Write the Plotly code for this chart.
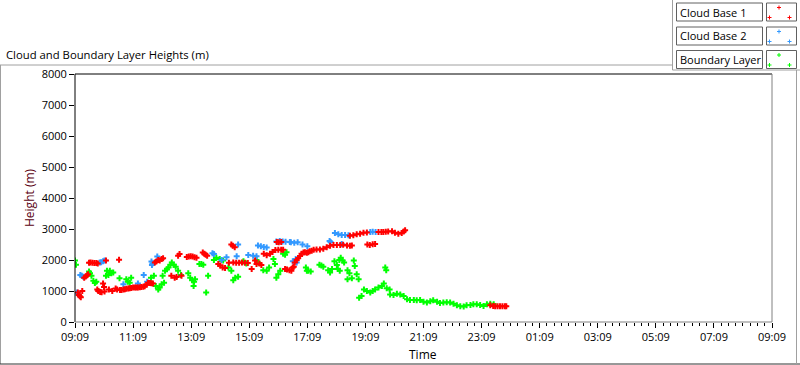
import pandas as pd
import plotly.graph_objects as go

# ---------------- data (clock times, heights in m) ----------------
cb1_time = ["09:15","09:17","09:19","09:21","09:24","09:28","09:31","09:34","09:36","09:38",
            "09:41","09:45","09:49","09:53","09:56","09:55","09:57","10:01","10:04","10:07",
            "10:09","10:10","10:13","10:19","10:26","10:33","10:36","10:40","10:42","10:45",
            "10:49","10:52","10:55","10:59","11:02","11:05","11:09","11:13","11:16","11:19",
            "11:23","11:26","11:30","11:33","11:37","11:40","11:44","11:47","11:50","11:54",
            "11:57","12:01","12:04","12:08","12:11","12:28","12:35","12:39","12:42","12:45",
            "12:49","13:00","13:04","13:08","13:12","13:16","13:20","13:33","13:36","13:39",
            "13:42","14:05","14:09","14:14","14:19","14:27","14:32","14:35","14:39","14:36",
            "14:42","14:48","14:54","15:00","15:06","15:14","15:21","15:24","15:30","15:34",
            "15:39","15:45","15:52","15:57","16:03","16:06","16:10","16:15","16:09","16:15",
            "16:19","16:23","16:27","16:32","16:36","16:39","16:41","16:43","16:47","16:50",
            "16:54","16:57","17:01","17:04","17:08","17:11","17:14","17:18","17:22","17:28",
            "17:35","17:42","17:49","17:56","18:03","18:10","18:17","18:23","18:31","18:37",
            "18:41","18:37","18:44","18:51","18:58","19:05","19:12","19:13","19:18","19:24",
            "19:29","19:36","19:42","19:46","19:51","19:56","20:04","20:10","20:17","20:24",
            "20:28","20:31","23:27","23:33","23:37","23:42","23:47","23:52","23:57","00:00"]
cb1_height = [950,870,830,800,1000,1430,1470,1510,1540,1910,
              1920,1910,1900,1900,1890,1050,1000,970,960,1240,
              1130,980,1980,1050,1000,1080,1050,2010,1030,1030,
              1050,1060,1070,1080,1090,1100,1110,1110,1110,1110,
              1120,1130,1140,1150,1200,1270,1260,1250,1240,1920,
              1950,2000,1980,2030,2060,1490,1430,1450,2140,2190,
              1490,2100,2110,2120,2110,2090,2070,2240,2200,2170,
              2140,1870,1820,1760,1740,1910,2500,2460,2410,1920,
              1910,1910,1920,1910,1900,1710,1980,1870,1890,1840,
              2200,2150,2200,2260,2320,2580,2570,2580,2330,2330,
              2330,1710,1690,1670,1650,1760,1780,1920,2000,2060,
              2130,2200,2240,2250,2230,2250,2280,2300,2330,2340,
              2340,2360,2410,2460,2480,2480,2480,2490,2470,2460,
              2470,2780,2800,2830,2850,2880,2890,2500,2480,2510,
              2520,2900,2900,2900,2910,2920,2930,2880,2850,2870,
              2920,2960,540,520,510,510,510,510,510,510]

cb2_time = ["09:13","09:16","09:20","09:23","09:26","10:00","10:03","10:07","10:10","10:49",
            "11:19","11:31","11:38","11:47","11:48","11:49","11:59","13:53","13:56","14:12",
            "14:22","14:43","14:46","15:07","15:17","15:24","15:27","15:33","15:39","15:45",
            "16:05","16:12","16:18","16:24","16:33","16:35","16:39","16:42","16:45","16:47",
            "16:49","16:59","17:09","17:55","17:57","18:06","18:13","18:20","18:20","18:27",
            "18:34","19:19","19:24","19:30"]
cb2_height = [950,890,1520,1490,1460,1920,1930,1960,1980,1220,
              1240,1520,1300,1950,1840,1890,2110,2220,2190,2000,
              2090,2120,2500,2160,2140,2120,2470,2440,2420,2400,
              2600,2610,2600,2590,2580,2570,1960,2560,2030,1920,
              2570,2500,2440,2610,2580,2870,2830,2520,2810,2810,
              2800,2900,2910,2900]

bl_time = ["09:09","09:11","09:38","09:40","09:43","09:47","09:50","09:53","10:13","10:15",
           "10:18","10:21","10:24","10:28","10:41","10:55","10:58","11:02","11:05","11:46",
           "11:52","11:56","12:01","12:04","12:08","12:10","12:13","12:15","12:19","12:22",
           "12:26","12:29","12:33","12:37","12:42","12:48","13:03","13:07","13:11","13:14",
           "13:15","13:17","13:26","13:30","13:34","13:40","13:44","13:56","14:01","14:08",
           "14:15","14:26","14:32","14:36","14:40","14:46","14:57","15:03","15:24","15:27",
           "15:38","15:45","15:50","15:59","16:02","16:05","16:09","16:13","16:19","16:23",
           "16:26","17:06","17:08","17:11","17:16","17:34","17:38","17:42","17:52","17:56",
           "18:00","18:05","18:10","18:12","18:15","18:16","18:18","18:22","18:25","18:32",
           "18:32","18:36","18:41","18:45","18:47","18:51","18:55","18:56","19:01","19:06",
           "19:12","19:19","19:24","19:29","19:36","19:43","19:47","19:50","19:52","19:53",
           "19:59","20:00","20:07","20:14","20:21","20:28","20:35","20:41","20:49","20:55",
           "21:02","21:09","21:16","21:23","21:29","21:37","21:43","21:50","21:57","22:04",
           "22:11","22:18","22:25","22:32","22:38","22:46","22:52","22:59","23:06","23:13",
           "23:20","23:27","23:34"]
bl_height = [1980,1850,1630,1570,1490,1330,1260,1300,1490,1650,
             1520,1650,1570,1600,1410,1380,1300,1270,1430,1430,
             1490,1160,1050,1110,1220,1490,1270,1650,1700,1760,
             1850,1920,1850,1780,1650,1520,1570,1430,1350,1160,
             1300,1380,1870,1870,1850,950,1490,2000,2070,2030,
             1980,1760,1650,1350,1430,1460,1960,1890,2000,1920,
             1670,1650,1760,2030,1870,1430,1540,1650,2200,2170,
             2250,1760,1650,1650,1630,1850,1820,1780,1670,1600,
             1710,1960,1840,1710,2000,1650,2070,1980,1920,1670,
             1380,1570,1410,1980,1810,1540,1380,780,840,1050,
             1000,950,1000,1050,1110,1160,1240,1760,1670,1090,
             1050,890,870,910,890,840,730,710,710,700,
             710,650,630,670,700,650,610,630,640,630,
             590,540,510,500,540,550,570,570,550,520,
             570,590,570]

x_tick_labels = ["09:09","11:09","13:09","15:09","17:09","19:09","21:09",
                 "23:09","01:09","03:09","05:09","07:09","09:09"]
y_tick_values = [0,1000,2000,3000,4000,5000,6000,7000,8000]

DAY0 = "2024-05-01"
START = pd.Timestamp(DAY0 + " 09:09")


def to_dt(times):
    out = []
    for t in times:
        ts = pd.Timestamp(DAY0 + " " + t)
        if ts < START:
            ts += pd.Timedelta(days=1)
        out.append(ts)
    return out


# ---------------- geometry helpers (pixels -> paper) ----------------
W, H = 800, 365
L, R, T, B = 75, 772, 74, 322


def px(x):
    return (x - L) / (R - L)


def py(y):
    return (B - y) / (B - T)


FONT = "Open Sans"

fig = go.Figure()
series = [("Boundary Layer", bl_time, bl_height, "#00FF00"),
          ("Cloud Base 2", cb2_time, cb2_height, "#3399FF"),
          ("Cloud Base 1", cb1_time, cb1_height, "#FF0000")]
for name, tt, hh, col in series:
    fig.add_trace(go.Scatter(x=to_dt(tt), y=hh, mode="markers", name=name,
                             marker=dict(symbol="cross", size=5, color=col,
                                         line=dict(width=0)),
                             showlegend=False, hoverinfo="x+y"))

tick_vals = [START + pd.Timedelta(hours=2 * i) for i in range(len(x_tick_labels))]
fig.update_xaxes(range=[START, START + pd.Timedelta(days=1)],
                 tickmode="array", tickvals=tick_vals, ticktext=x_tick_labels,
                 ticks="outside", ticklen=5, tickcolor="#000000", tickwidth=1,
                 showgrid=False, zeroline=False, showline=False,
                 tickfont=dict(family=FONT, size=11, color="#000000"),
                 minor=dict(ticks="outside", ticklen=3, tickcolor="#000000",
                            dtick=15 * 60 * 1000, tick0=START, showgrid=False))
fig.update_yaxes(range=[0, 8000], tickmode="array", tickvals=y_tick_values,
                 ticks="outside", ticklen=5, tickcolor="#000000",
                 showgrid=False, zeroline=False, showline=False,
                 tickfont=dict(family=FONT, size=11, color="#000000"))

shapes = []
def line(x0, y0, x1, y1, color, width=1):
    shapes.append(dict(type="line", xref="paper", yref="paper",
                       x0=px(x0), y0=py(y0), x1=px(x1), y1=py(y1),
                       line=dict(color=color, width=width), layer="above"))

def rect(x0, y0, x1, y1, color, fill="#FFFFFF"):
    shapes.append(dict(type="rect", xref="paper", yref="paper",
                       x0=px(x0), y0=py(y0), x1=px(x1), y1=py(y1),
                       line=dict(color=color, width=1), fillcolor=fill, layer="above"))

# plot frame
line(L, T, L, B, "#000000")
line(L, T, R, T, "#000000")
line(R, T, R, B, "#808080")
line(L, B, R, B, "#808080")
# outer panel
line(0, 65, 672.5, 65, "#A0A0A0")
line(0.5, 65, 0.5, 364, "#A0A0A0")
line(0, 364, 800, 364, "#303030")
line(796.5, 70, 796.5, 364, "#A0A0A0")
# legend container
line(672.5, 0, 672.5, 70, "#A0A0A0")
line(672.5, 70, 800, 70, "#A0A0A0")

annotations = []
leg_items = [("Cloud Base 1", "#FF0000", 3), ("Cloud Base 2", "#3399FF", 27),
             ("Boundary Layer", "#00FF00", 50.5)]
for label, col, top in leg_items:
    rect(676.5, top, 762.5, top + 18, "#606060")
    rect(766.5, top, 796.5, top + 18, "#606060")
    annotations.append(dict(text=label, x=px(678), y=py(top + 9), xref="paper", yref="paper",
                            xanchor="left", yanchor="middle", showarrow=False,
                            font=dict(family=FONT, size=11, color="#000000")))
    for cx, cy in [(779, top + 4.5), (769.5, top + 14.5), (789.5, top + 14.5)]:
        line(cx - 2, cy, cx + 2, cy, col)
        line(cx, cy - 2, cx, cy + 2, col)

annotations.append(dict(text="Cloud and Boundary Layer Heights (m)", x=px(4), y=py(55),
                        xref="paper", yref="paper", xanchor="left", yanchor="middle",
                        showarrow=False, font=dict(family=FONT, size=11.3, color="#000000")))
annotations.append(dict(text="Height (m)", x=px(29), y=py(198), xref="paper", yref="paper",
                        xanchor="center", yanchor="middle", textangle=-90, showarrow=False,
                        font=dict(family=FONT, size=12, color="#5A0010")))
annotations.append(dict(text="Time", x=px(423), y=py(354), xref="paper", yref="paper",
                        xanchor="center", yanchor="middle", showarrow=False,
                        font=dict(family=FONT, size=12, color="#000000")))

fig.update_layout(width=W, height=H, margin=dict(l=L, r=W - R, t=T, b=H - B),
                  plot_bgcolor="#FFFFFF", paper_bgcolor="#FFFFFF",
                  shapes=shapes, annotations=annotations, showlegend=False)

fig.write_html("out.html", config={"displayModeBar": False},
               post_script="document.body.style.margin='0px';document.body.style.overflow='hidden';")
